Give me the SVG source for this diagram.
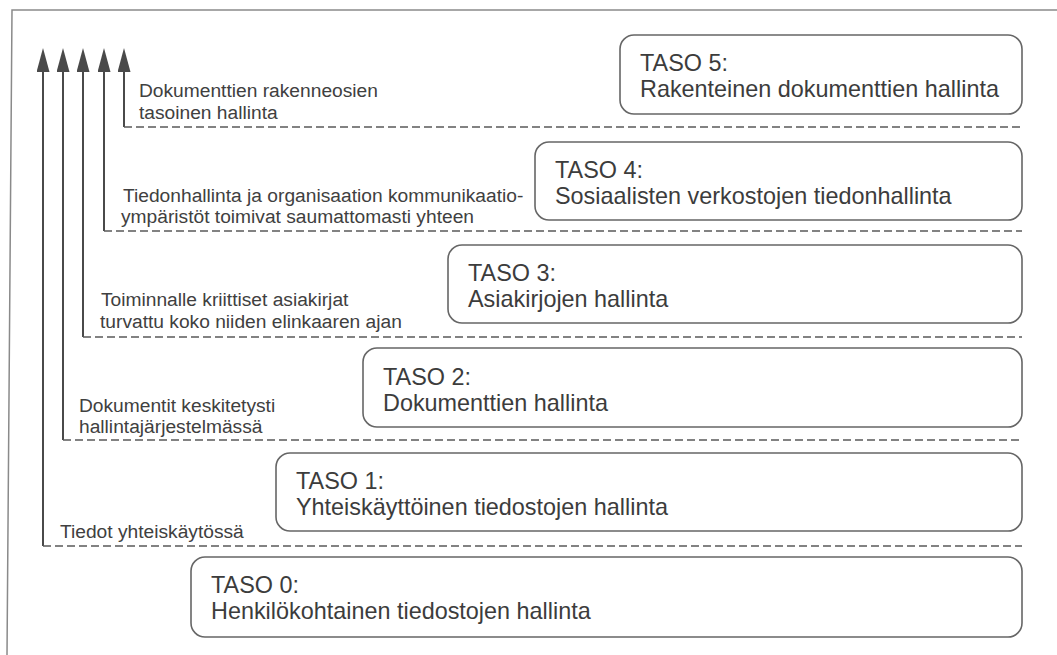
<svg xmlns="http://www.w3.org/2000/svg" width="1057" height="655" viewBox="0 0 1057 655">
  <defs>
    <!-- arrowhead: base sits at the path end, tip points along the path -->
    <marker id="head" viewBox="0 0 24 13" refX="0" refY="6.5" markerWidth="24" markerHeight="13" markerUnits="userSpaceOnUse" orient="auto">
      <polygon points="24,6.5 0,0 0,13" fill="#4a4a4a"/>
    </marker>
    <style>
      .frame { fill: none; stroke: #8a8a8a; stroke-width: 1.5; }
      .shaft { fill: none; stroke: #4a4a4a; stroke-width: 2; }
      .level { fill: none; stroke: #5a5a5a; stroke-width: 1.5; stroke-dasharray: 8 4; }
      .box { fill: #ffffff; stroke: #666666; stroke-width: 1.6; }
      .lbl { font-family: "Liberation Sans", Arial, sans-serif; font-size: 19.2px; fill: #404040; }
      .ttl { font-family: "Liberation Sans", Arial, sans-serif; font-size: 23.4px; fill: #3c3c3c; }
    </style>
  </defs>

  <rect width="1057" height="655" fill="#ffffff"/>

  <!-- outer frame: top and left edges -->
  <path class="frame" d="M1057,10 L12,10 L7,655"/>

  <!-- connectors: rising arrows that turn into dashed level boundaries -->
  <g id="connectors">
    <path class="shaft" d="M43,546 L43,72" marker-end="url(#head)"/>
    <path class="shaft" d="M63,440 L63,72" marker-end="url(#head)"/>
    <path class="shaft" d="M83,337 L83,72" marker-end="url(#head)"/>
    <path class="shaft" d="M104,231 L104,72" marker-end="url(#head)"/>
    <path class="shaft" d="M124,127 L124,72" marker-end="url(#head)"/>

    <path class="level" d="M124,127 H1022"/>
    <path class="level" d="M104,231 H1022"/>
    <path class="level" d="M83,337 H1022"/>
    <path class="level" d="M63,440 H1022"/>
    <path class="level" d="M43,546 H1022"/>
  </g>

  <!-- labels beside the arrows -->
  <g id="label-5">
    <text class="lbl" x="139" y="97">Dokumenttien rakenneosien</text>
    <text class="lbl" x="139" y="119">tasoinen hallinta</text>
  </g>
  <g id="label-4">
    <text class="lbl" x="123" y="202">Tiedonhallinta ja organisaation kommunikaatio-</text>
    <text class="lbl" x="121" y="223">ympäristöt toimivat saumattomasti yhteen</text>
  </g>
  <g id="label-3">
    <text class="lbl" x="101" y="306">Toiminnalle kriittiset asiakirjat</text>
    <text class="lbl" x="100" y="328">turvattu koko niiden elinkaaren ajan</text>
  </g>
  <g id="label-2">
    <text class="lbl" x="79" y="412">Dokumentit keskitetysti</text>
    <text class="lbl" x="79" y="433">hallintajärjestelmässä</text>
  </g>
  <g id="label-1">
    <text class="lbl" x="60" y="538">Tiedot yhteiskäytössä</text>
  </g>

  <!-- level boxes -->
  <g id="taso-5">
    <rect class="box" x="620" y="35" width="402" height="79" rx="14"/>
    <text class="ttl" x="640" y="71">TASO 5:</text>
    <text class="ttl" x="640" y="97">Rakenteinen dokumenttien hallinta</text>
  </g>
  <g id="taso-4">
    <rect class="box" x="535" y="142" width="487" height="78" rx="14"/>
    <text class="ttl" x="555" y="178">TASO 4:</text>
    <text class="ttl" x="555" y="204">Sosiaalisten verkostojen tiedonhallinta</text>
  </g>
  <g id="taso-3">
    <rect class="box" x="448" y="245" width="574" height="78" rx="14"/>
    <text class="ttl" x="468" y="281">TASO 3:</text>
    <text class="ttl" x="468" y="307">Asiakirjojen hallinta</text>
  </g>
  <g id="taso-2">
    <rect class="box" x="363" y="348" width="659" height="79" rx="14"/>
    <text class="ttl" x="383" y="385">TASO 2:</text>
    <text class="ttl" x="383" y="411">Dokumenttien hallinta</text>
  </g>
  <g id="taso-1">
    <rect class="box" x="276" y="453" width="746" height="78" rx="14"/>
    <text class="ttl" x="296" y="489">TASO 1:</text>
    <text class="ttl" x="296" y="515">Yhteiskäyttöinen tiedostojen hallinta</text>
  </g>
  <g id="taso-0">
    <rect class="box" x="191" y="557" width="831" height="80" rx="14"/>
    <text class="ttl" x="211" y="593">TASO 0:</text>
    <text class="ttl" x="211" y="619">Henkilökohtainen tiedostojen hallinta</text>
  </g>
</svg>
